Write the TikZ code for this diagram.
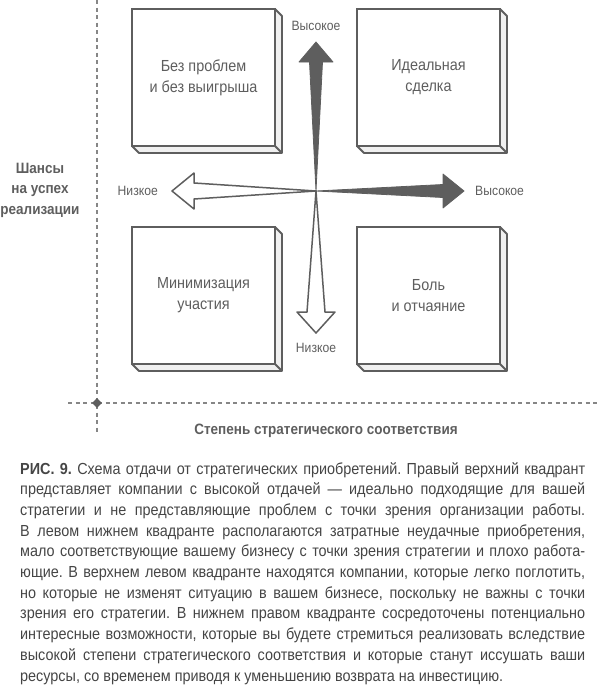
\documentclass[tikz,border=0pt]{standalone}
\usepackage{fontspec}
\setmainfont[FakeStretch=0.9]{Liberation Sans}
\usetikzlibrary{positioning,shapes.geometric}
\definecolor{ink}{HTML}{5E5E5E}
\definecolor{txt}{HTML}{454545}
\tikzset{
  quad/.style={rectangle, draw=ink, line width=2.4pt, minimum width=143pt, minimum height=137pt, anchor=north west, outer sep=0pt, inner sep=0pt, align=center, font=\fontsize{16}{21}\selectfont, text=ink},
  bevel/.style={draw=ink, line width=1.8pt, fill=gray!12, line join=round},
  guide/.style={draw=gray!95, line width=1.3pt, dash pattern=on 4pt off 3.5pt},
  hiarrow/.style={fill=ink, draw=ink, line width=0.8pt, line join=round},
  loarrow/.style={fill=white, draw=ink, line width=1.5pt, line join=round},
  tick/.style={font=\fontsize{13.5}{15}\selectfont, text=ink, inner sep=0pt},
  axis/.style={font=\bfseries\fontsize{15}{20.5}\selectfont, text=ink, align=center}
}

\begin{document}
\frenchspacing
\begin{tikzpicture}[x=1pt, y=-1pt]
  \useasboundingbox (0,0) rectangle (600,689);

  % dashed guide lines with the corner mark
  \coordinate (vtop) at (97,0);
  \coordinate (vbot) at (97,432);
  \coordinate (hlft) at (68,403);
  \coordinate (hrgt) at (600,403);
  \coordinate (orig) at (97,403);
  \draw[guide] (vtop) -- (vbot);
  \draw[guide] (hlft) -- (hrgt);
  \node[diamond, fill=ink, minimum size=10pt, inner sep=0pt] (mark) at (orig) {};

  % the four quadrant boxes with their bevel
  \foreach \nm/\x/\y/\txt in {
    tl/132/9/{Без проблем\\и без выигрыша},
    tr/357/9/{Идеальная\\сделка},
    bl/132/227/{Минимизация\\участия},
    br/357/227/{Боль\\и отчаяние}} {
    \filldraw[bevel] (\x+143,\y) -- ++(7,7) -- ++(0,137) -- ++(-143,0) -- ++(-7,-7) -- ++(143,0) -- cycle;
    \draw[bevel] (\x+143,\y+137) -- ++(7,7);
    \node[quad, fill=white] (\nm) at (\x,\y) {\txt};
  }

  % arrows from the centre
  \coordinate (c) at (316,191);
  \coordinate (upT) at (316,42);
  \coordinate (dnT) at (316,333);
  \coordinate (rtT) at (464,191);
  \coordinate (lfT) at (172,191);
  \draw[loarrow] (c) -- ([shift={(-9,-21)}]dnT) -- ([shift={(-19,-21)}]dnT) -- (dnT)
    -- ([shift={(19,-21)}]dnT) -- ([shift={(9,-21)}]dnT) -- cycle;
  \draw[loarrow] (c) -- ([shift={(22,-8)}]lfT) -- ([shift={(22,-18)}]lfT) -- (lfT)
    -- ([shift={(22,18)}]lfT) -- ([shift={(22,8)}]lfT) -- cycle;
  \draw[hiarrow] (c) -- ([shift={(-6.5,20)}]upT) -- ([shift={(-17,20)}]upT) -- (upT)
    -- ([shift={(17,20)}]upT) -- ([shift={(6.5,20)}]upT) -- cycle;
  \draw[hiarrow] (c) -- ([shift={(-21,-6.5)}]rtT) -- ([shift={(-21,-17)}]rtT) -- (rtT)
    -- ([shift={(-21,17)}]rtT) -- ([shift={(-21,6.5)}]rtT) -- cycle;

  \node[tick, above=11pt of upT] (hiY) {Высокое};
  \node[tick, below=10pt of dnT] (loY) {Низкое};
  \node[tick, right=11pt of rtT] (hiX) {Высокое};
  \node[tick, left=14pt of lfT] (loX) {Низкое};

  % axis names
  \node[axis] (yname) at (40,190) {Шансы\\на успех\\реализации};
  \node[axis] (xname) at (326,431) {Степень стратегического соответствия};

  % caption
  \node[anchor=north west, inner sep=0pt, text width=565pt, align=justify,
        font=\fontsize{16}{20.7}\selectfont, text=txt] (cap) at (20,462)
  {\textbf{РИС. 9.} Схема отдачи от стратегических приобретений. Правый верхний квадрант\linebreak
   представляет компании с высокой отдачей — идеально подходящие для вашей\linebreak
   стратегии и не представляющие проблем с точки зрения организации работы.\linebreak
   В левом нижнем квадранте располагаются затратные неудачные приобретения,\linebreak
   мало соответствующие вашему бизнесу с точки зрения стратегии и плохо работа-\linebreak
   ющие. В верхнем левом квадранте находятся компании, которые легко поглотить,\linebreak
   но которые не изменят ситуацию в вашем бизнесе, поскольку не важны с точки\linebreak
   зрения его стратегии. В нижнем правом квадранте сосредоточены потенциально\linebreak
   интересные возможности, которые вы будете стремиться реализовать вследствие\linebreak
   высокой степени стратегического соответствия и которые станут иссушать ваши\linebreak
   ресурсы, со временем приводя к уменьшению возврата на инвестицию.};
\end{tikzpicture}
\end{document}
